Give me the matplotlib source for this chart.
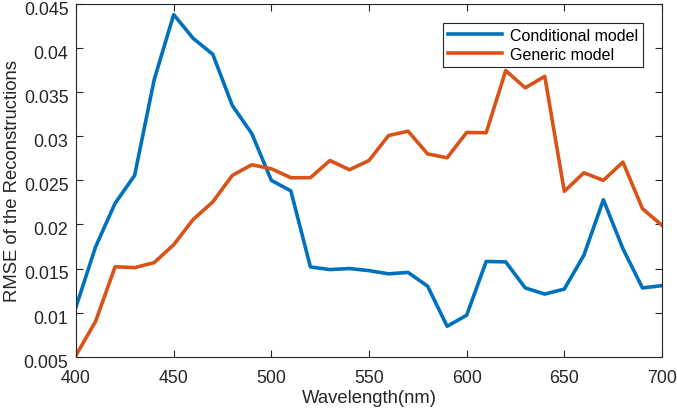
import numpy as np
import matplotlib.pyplot as plt
import matplotlib.transforms as mtransforms

plt.rcParams['font.family'] = ['Liberation Sans', 'DejaVu Sans']

wavelength = list(range(400, 701, 10))

conditional = [0.01065, 0.01745, 0.0224, 0.02556, 0.0364, 0.0438, 0.0411, 0.0393, 0.0335, 0.0303,
               0.0250, 0.0238, 0.01518, 0.01488, 0.0150, 0.01476, 0.0144, 0.01456, 0.0130, 0.00845,
               0.0097, 0.0158, 0.01575, 0.0128, 0.0121, 0.01267, 0.0165, 0.0228, 0.01725, 0.0128,
               0.01306]

generic = [0.00517, 0.0090, 0.0152, 0.0151, 0.01567, 0.0177, 0.02057, 0.02255, 0.02556, 0.02677,
           0.02631, 0.0253, 0.0253, 0.02725, 0.0262, 0.02725, 0.03008, 0.03058, 0.0280, 0.02756,
           0.03043, 0.0304, 0.03745, 0.03549, 0.0368, 0.02375, 0.02586, 0.0250, 0.02707, 0.02179,
           0.0199]

axcol = '#262626'

fig = plt.figure(figsize=(6.77, 4.14), dpi=100)
ax = fig.add_axes([0.1123, 0.1360, 0.8655, 0.8519])

ax.plot(wavelength, conditional, color='#0072BD', lw=2.6, label='Conditional model')
ax.plot(wavelength, generic, color='#D95319', lw=2.6, label='Generic model')

ax.set_xlim(400, 700)
ax.set_ylim(0.005, 0.045)
ax.set_xticks(np.arange(400, 701, 50))
ax.set_yticks([0.005, 0.01, 0.015, 0.02, 0.025, 0.03, 0.035, 0.04, 0.045])
ax.set_yticklabels(['0.005', '0.01', '0.015', '0.02', '0.025', '0.03', '0.035', '0.04', '0.045'])
ax.tick_params(direction='in', top=True, right=True, labelsize=12.8, colors=axcol, length=5, width=0.8)
ax.tick_params(axis='x', pad=9)
ax.tick_params(axis='y', pad=5.5)
for s in ax.spines.values():
    s.set_color(axcol)
    s.set_linewidth(0.8)

# nudge y tick labels down a little so the top one stays inside the figure
shift = mtransforms.ScaledTranslation(0, -2.5 / 72, fig.dpi_scale_trans)
for lab in ax.get_yticklabels():
    lab.set_transform(lab.get_transform() + shift)

ax.set_xlabel('Wavelength(nm)', fontsize=13.3, color=axcol, labelpad=2)
ax.set_ylabel('RMSE of the Reconstructions', fontsize=13.3, color=axcol, labelpad=2)

leg = ax.legend(loc='upper right', bbox_to_anchor=(0.9498, 0.942), bbox_transform=fig.transFigure,
                fontsize=11.5, fancybox=False, edgecolor=axcol, framealpha=1,
                handlelength=3.4, borderpad=0.3, labelspacing=0.25, handletextpad=0.5, borderaxespad=0)
leg.get_frame().set_linewidth(0.8)

plt.savefig('out.png', dpi=100)
